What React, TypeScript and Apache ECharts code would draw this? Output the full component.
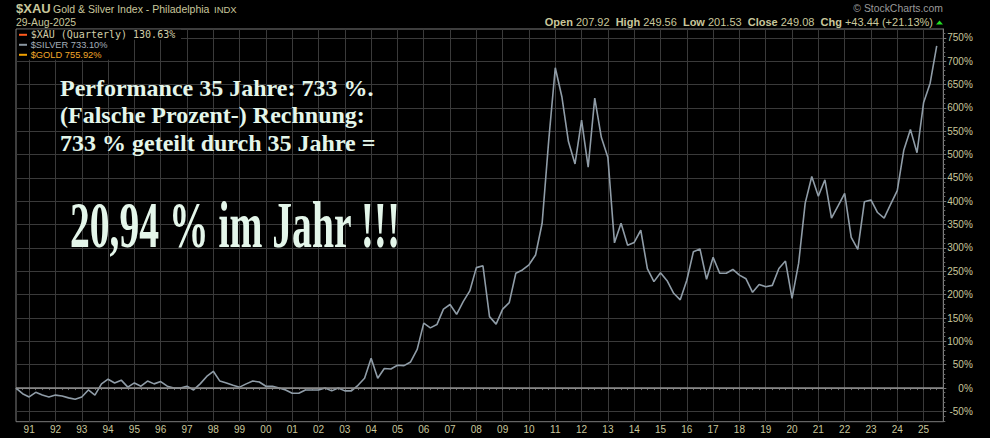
import React, { useEffect, useRef } from "react";
import * as echarts from "echarts";

// ---- data ----
const START_YEAR = 1990;
const START_QUARTER = 3; // first point: Q3 1990
const QUARTER_COUNT = 142; // through Q4 2025 (last slot empty)

// $SILVER cumulative performance in %, quarterly, Q3 1990 .. Q3 2025
const silver1990s = [
  0, -12, -19, -9, -15, -19, -15, -17, -21, -24, -19, -4, -15, 9, 19, 11, 17, 2,
  11, 4, 15, 9, 14, 4, 0, 0, 4, -4, 9, 25, 36, 15, 11, 6,
];
const silver2000s = [
  2, 9, 15, 13, 4, 4, 0, -4, -11, -11, -4, -4, -4, 0, -6, 0, -6, -6, 6, 21, 64,
  21, 42, 41, 49, 48, 56, 83, 139, 129, 136, 169, 179, 158, 185, 208, 258, 262,
  153, 137, 169, 183, 246, 253, 264, 285,
];
const silver2010s = [
  353, 530, 686, 624, 528, 480, 574, 473, 621, 537, 494, 311, 353, 306, 312, 338,
  256, 228, 247, 230, 203, 189, 231, 292, 298, 233, 280, 246, 246, 254, 242, 234,
  205, 222, 217, 220, 256, 272,
];
const silver2020s = [
  192, 267, 396, 453, 411, 446, 364, 390, 417, 323, 297, 399, 403, 376, 364, 394,
  423, 510, 554, 504, 611, 653, 733,
];
const silverPct = [...silver1990s, ...silver2000s, ...silver2010s, ...silver2020s];

const yLabelValues = [-50, 0, 50, 100, 150, 200, 250, 300, 350, 400, 450, 500, 550, 600, 650, 700, 750];
const yMinorValues = [
  -70, -60, -40, -30, -20, -10, 10, 20, 30, 40, 60, 70, 80, 90, 110, 120, 130, 140,
  160, 170, 180, 190, 210, 220, 230, 240, 260, 270, 280, 290, 310, 320, 330, 340,
  360, 370, 380, 390, 410, 420, 430, 440, 460, 470, 480, 490, 510, 520, 530, 540,
  560, 570, 580, 590, 610, 620, 630, 640, 660, 670, 680, 690, 710, 720, 730, 740, 760,
];
const Y_MIN = -72;
const Y_MAX = 769;

const headerSymbol = "$XAU";
const headerName = "Gold & Silver Index - Philadelphia";
const headerExchange = "INDX";
const headerDate = "29-Aug-2025";
const legendRows = [
  { label: "$XAU (Quarterly) 130.63%", dash: "#ff5a1e", text: "#d2cea8", w: 164, mono: true },
  { label: "$SILVER 733.10%", dash: "#8a96a0", text: "#a4aeb8", w: 94, mono: false },
  { label: "$GOLD 755.92%", dash: "#f0a000", text: "#f2a82a", w: 94, mono: false },
];
const ohlc = { open: "207.92", high: "249.56", low: "201.53", close: "249.08", chg: "+43.44 (+21.13%)" };
const overlayLines = [
  "Performance 35 Jahre: 733 %.",
  "(Falsche Prozent-) Rechnung:",
  "733 % geteilt durch 35 Jahre =",
];
const overlayBig = "20,94 % im Jahr !!!";

const categories: string[] = [];
for (let i = 0; i < QUARTER_COUNT; i++) {
  const q0 = START_QUARTER - 1 + i;
  const yr = START_YEAR + Math.floor(q0 / 4);
  categories.push(`${yr}Q${(q0 % 4) + 1}`);
}

const KHAKI = "#c9c79c";
const SANS = '"Liberation Sans", Arial, sans-serif';
const MONO = '"DejaVu Sans Mono", monospace';
const SERIF = '"Liberation Serif", "Times New Roman", serif';

export default function App() {
  const ref = useRef<HTMLDivElement>(null);
  useEffect(() => {
    document.body.style.margin = "0";
    document.body.style.background = "#000";
    if (!ref.current) return;
    const chart = echarts.init(ref.current, undefined, { renderer: "svg" });
    const isYearStart = (_i: number, v: string) => String(v).endsWith("Q1");

    const graphics: any[] = [];
    const txt = (x: number, y: number, text: string, font: string, fill: string, align = "left", extra: any = {}) => ({
      type: "text",
      x,
      y,
      z: 100,
      silent: true,
      ...extra,
      style: { text, font, fill, align, textAlign: align, verticalAlign: "middle", textVerticalAlign: "middle" },
    });
    graphics.push(txt(16, 8.8, headerSymbol, `bold 13px ${SANS}`, KHAKI));
    graphics.push(txt(53, 8.8, headerName, `10.5px ${SANS}`, KHAKI));
    graphics.push(txt(214, 9.2, headerExchange, `9.5px ${SANS}`, KHAKI));
    graphics.push(txt(16, 22.5, headerDate, `10.4px ${SANS}`, KHAKI));
    graphics.push(txt(943, 8.8, "\u00a9 StockCharts.com", `10.4px ${SANS}`, "#9a9a9a", "right"));
    graphics.push({
      type: "text",
      x: 933,
      y: 21.5,
      z: 100,
      silent: true,
      style: {
        text: `{b|Open} {n|${ohlc.open}}  {b|High} {n|${ohlc.high}}  {b|Low} {n|${ohlc.low}}  {b|Close} {n|${ohlc.close}}  {b|Chg} {n|${ohlc.chg}}`,
        align: "right",
        textAlign: "right",
        verticalAlign: "middle",
        textVerticalAlign: "middle",
        font: `11px ${SANS}`,
        fill: KHAKI,
        rich: {
          b: { font: `bold 11px ${SANS}`, fontWeight: "bold", fontSize: 11, fill: KHAKI, color: KHAKI },
          n: { font: `11px ${SANS}`, fontSize: 11, fill: KHAKI, color: KHAKI },
        },
      },
    });
    graphics.push({
      type: "polygon",
      z: 100,
      silent: true,
      shape: { points: [[936, 24.5], [943, 24.5], [939.5, 20.5]] },
      style: { fill: "#22dd22" },
    });
    legendRows.forEach((r, k) => {
      const cy = 34.8 + k * 10;
      graphics.push({
        type: "rect",
        z: 99,
        silent: true,
        shape: { x: 17, y: cy - 5, width: r.w, height: 10 },
        style: { fill: "#000" },
      });
      graphics.push({
        type: "line",
        z: 100,
        silent: true,
        shape: { x1: 19, y1: cy, x2: 27, y2: cy },
        style: { stroke: r.dash, lineWidth: 2 },
      });
      graphics.push(txt(30.7, cy, r.label, r.mono ? `10px ${MONO}` : `9.3px ${SANS}`, r.text));
    });
    overlayLines.forEach((line, k) => {
      graphics.push(txt(60, 87.9 + k * 27.5, line, `bold 24px ${SERIF}`, "#e4f6ea"));
    });
    graphics.push({
      type: "text",
      x: 70,
      y: 224.7,
      scaleX: 0.6,
      z: 100,
      silent: true,
      style: {
        text: overlayBig,
        font: `bold 66px ${SERIF}`,
        fill: "#e4f6ea",
        align: "left",
        textAlign: "left",
        verticalAlign: "middle",
        textVerticalAlign: "middle",
      },
    });

    chart.setOption({
      animation: false,
      backgroundColor: "#000",
      grid: {
        left: 16,
        top: 29,
        right: 46.7,
        bottom: 16.3,
        show: true,
        borderColor: "#7c7c7c",
        borderWidth: 1,
        containLabel: false,
      },
      xAxis: {
        type: "category",
        data: categories,
        boundaryGap: false,
        axisLine: { show: true, lineStyle: { color: "#7c7c7c" } },
        axisTick: { show: true, interval: 0, length: 2, lineStyle: { color: "#6a6a6a" } },
        axisLabel: {
          interval: isYearStart,
          formatter: (v: string) => v.slice(2, 4),
          color: KHAKI,
          fontSize: 10,
          fontFamily: SANS,
          margin: 3,
        },
        splitLine: { show: true, interval: isYearStart, lineStyle: { color: "#3a3a3a", width: 1 } },
      },
      yAxis: [
        {
          type: "value",
          position: "right",
          min: Y_MIN,
          max: Y_MAX,
          axisLine: { show: true, lineStyle: { color: "#7c7c7c" } },
          axisTick: { show: true, length: 3, customValues: yLabelValues, lineStyle: { color: "#7c7c7c" } },
          axisLabel: {
            customValues: yLabelValues,
            formatter: (v: number) => `${v}%`,
            color: KHAKI,
            fontSize: 10,
            fontFamily: SANS,
            align: "right",
            margin: 29.5,
          },
          splitLine: { show: true, lineStyle: { color: "#3a3a3a", width: 1 } },
        },
        {
          type: "value",
          position: "right",
          min: Y_MIN,
          max: Y_MAX,
          axisLine: { show: false },
          axisTick: { show: true, length: 2, customValues: yMinorValues, lineStyle: { color: "#6a6a6a" } },
          axisLabel: { show: false },
          splitLine: { show: false },
        },
      ],
      series: [
        {
          name: "$SILVER",
          type: "line",
          data: silverPct,
          symbol: "none",
          yAxisIndex: 0,
          lineStyle: { color: "#8f9ca7", width: 1.6 },
          markLine: {
            silent: true,
            symbol: ["none", "none"],
            label: { show: false },
            lineStyle: { color: "#8c8c8c", width: 1.5, type: "solid" },
            data: [{ yAxis: 0 }],
          },
        },
      ],
      graphic: { elements: graphics },
    });
    return () => chart.dispose();
  }, []);
  return <div ref={ref} style={{ width: 990, height: 438, background: "#000" }} />;
}
